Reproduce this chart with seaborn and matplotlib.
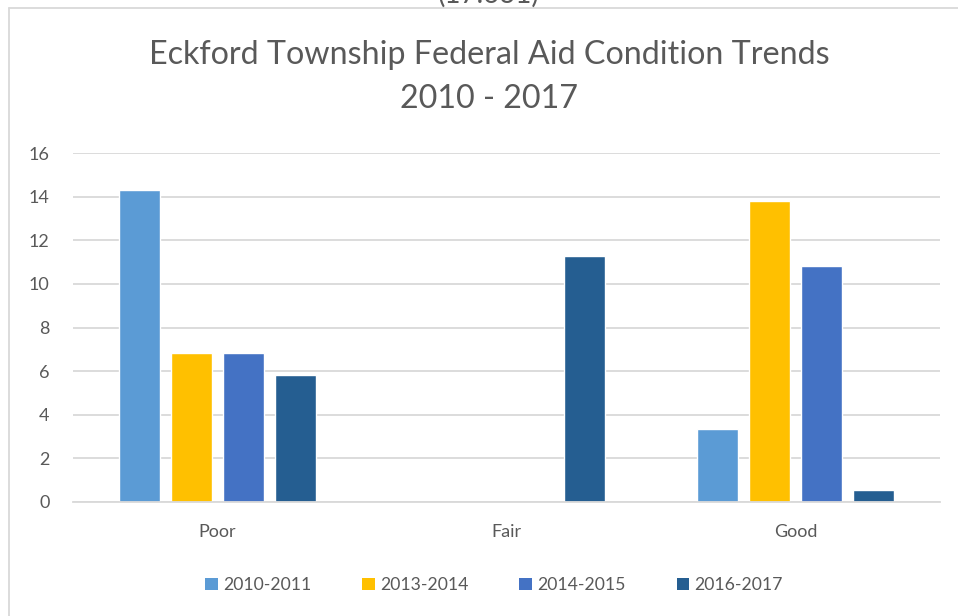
import matplotlib
matplotlib.use("Agg")
import matplotlib.pyplot as plt
from matplotlib.lines import Line2D
from matplotlib.patches import Patch
import pandas as pd
import seaborn as sns

# data
conditions = ['Poor', 'Fair', 'Good']
periods = ['2010-2011', '2013-2014', '2014-2015', '2016-2017']
val_2010_2011 = [14.3, 0, 3.35]
val_2013_2014 = [6.83, 0, 13.82]
val_2014_2015 = [6.83, 0, 10.81]
val_2016_2017 = [5.81, 11.28, 0.56]
colors = ['#5B9BD5', '#FFC000', '#4472C4', '#255E91']

rows = []
for per, vals in zip(periods, [val_2010_2011, val_2013_2014, val_2014_2015, val_2016_2017]):
    for cond, v in zip(conditions, vals):
        rows.append({'condition': cond, 'period': per, 'value': v})
df = pd.DataFrame(rows)

sns.set_style('white')
plt.rcParams['font.family'] = ['Lato', 'DejaVu Sans']
txt = '#595959'

fig = plt.figure(figsize=(9.58, 6.16), dpi=100)
ax = fig.add_axes([73/958, 1 - 502/616, (940 - 73)/958, (502 - 153)/616])

sns.barplot(data=df, x='condition', y='value', hue='period', order=conditions,
            hue_order=periods, palette=colors, width=0.72, gap=0.21,
            saturation=1, ax=ax, legend=False, errorbar=None)

ax.set_ylim(0, 16)
ax.set_yticks(range(0, 17, 2))
ax.set_xlim(-0.5, 2.5)
ax.yaxis.grid(True, color='#d9d9d9', linewidth=1.3)
ax.set_axisbelow(True)
for s in ['top', 'right', 'left']:
    ax.spines[s].set_visible(False)
ax.spines['bottom'].set_color('#d9d9d9')
ax.spines['bottom'].set_linewidth(1.3)
ax.tick_params(axis='both', length=0, labelsize=13, labelcolor=txt)
ax.tick_params(axis='y', pad=17)
ax.tick_params(axis='x', pad=16)
ax.set_xlabel('')
ax.set_ylabel('')

fig.text(489/958, 1 - 77/616, 'Eckford Township Federal Aid Condition Trends\n2010 - 2017',
         ha='center', va='center', fontsize=23.2, color=txt, linespacing=1.55)
fig.text(489/958, 1 - 8/616, '(17.631)', ha='center', va='bottom', fontsize=20, color=txt)

handles = [Patch(facecolor=c, edgecolor='none') for c in colors]
fig.legend(handles, periods, loc='center', bbox_to_anchor=(494/958, 1 - 585/616),
           ncol=4, frameon=False, fontsize=12.7, labelcolor=txt,
           handlelength=0.7, handleheight=0.7, handletextpad=0.3, columnspacing=2.9)

# chart border (only top and left visible)
fig.add_artist(Line2D([9/958, 1.0], [1 - 8/616, 1 - 8/616], color='#d9d9d9', linewidth=1.3))
fig.add_artist(Line2D([9/958, 9/958], [0, 1 - 8/616], color='#d9d9d9', linewidth=1.3))

fig.savefig('out.png', dpi=100, facecolor='white')
